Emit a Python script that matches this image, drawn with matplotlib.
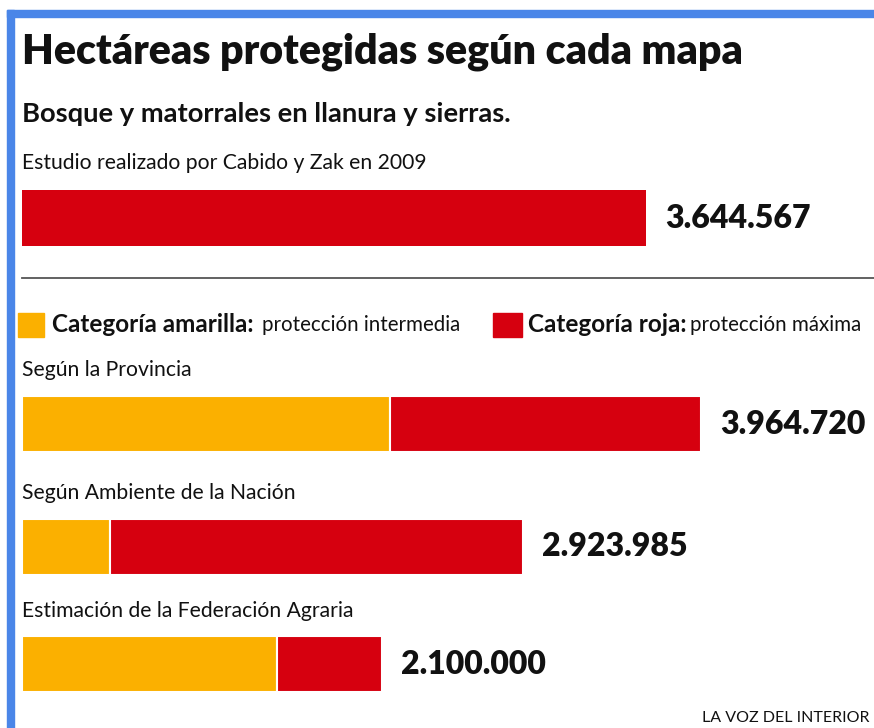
import matplotlib
matplotlib.use("Agg")
import matplotlib.pyplot as plt
from matplotlib.patches import Rectangle

# Colours
RED = "#D6000F"
YELLOW = "#FBB000"
BLUE = "#4A86E8"
TEXT = "#111111"
RULE = "#555555"

FONT = "Lato"

# Data (hectares)
study_label = "Estudio realizado por Cabido y Zak en 2009"
study_total = 3644567

map_labels = ["Según la Provincia", "Según Ambiente de la Nación",
              "Estimación de la Federación Agraria"]
map_totals = [3964720, 2923985, 2100000]
yellow_ha = [2150000, 515000, 1490000]
red_ha = [t - y for t, y in zip(map_totals, yellow_ha)]


def fmt(v):
    return f"{v:,}".replace(",", ".")


W, H = 874, 728
DPI = 100
fig = plt.figure(figsize=(W / DPI, H / DPI), dpi=DPI, facecolor="white")

# one axes over the whole canvas: x in hectares, y in pixels from top
ax = fig.add_axes([0, 0, 1, 1])
ha_per_px = study_total / 624.0
ax.set_xlim(-22 * ha_per_px, (W - 22) * ha_per_px)
ax.set_ylim(H, 0)
ax.axis("off")


def px(x, y):
    return x / W, 1 - y / H


# blue frame on top and left
fig.patches.append(Rectangle(px(7, 17), W, 7 / H, transform=fig.transFigure,
                             color=BLUE, zorder=0))
fig.patches.append(Rectangle(px(7, H), 7 / W, (H - 10) / H, transform=fig.transFigure,
                             color=BLUE, zorder=0))

# headings
fig.text(*px(22, 52), "Hectáreas protegidas según cada mapa", family=FONT,
         weight="heavy", fontsize=29.6, color=TEXT, va="center")
fig.text(*px(22, 114), "Bosque y matorrales en llanura y sierras.", family=FONT,
         weight="bold", fontsize=19.7, color=TEXT, va="center")
fig.text(*px(22, 163), study_label, family=FONT, fontsize=15.2, color=TEXT, va="center")

bar_h = 56
lbl_off = 19 * 72 / DPI  # 19 px in points
VAL_SIZE = 23

# study bar
ax.barh(218, study_total, height=bar_h, left=0, color=RED)
ax.annotate(fmt(study_total), (study_total, 218), xytext=(lbl_off, 0),
            textcoords="offset points", family=FONT, weight="heavy",
            fontsize=VAL_SIZE, va="center", color=TEXT)

# separator
ax.plot([0, (W - 22) * ha_per_px], [278, 278], color=RULE, lw=1.3)

# legend
fig.patches.append(Rectangle(px(18, 337), 26 / W, 24 / H, transform=fig.transFigure,
                             color=YELLOW))
fig.patches.append(Rectangle(px(493, 337), 29 / W, 24 / H, transform=fig.transFigure,
                             color=RED))
leg_y = 325
fig.text(*px(52, leg_y), "Categoría amarilla:", family=FONT, weight="bold",
         fontsize=17.5, color=TEXT, va="center")
fig.text(*px(262, leg_y), "protección intermedia", family=FONT, fontsize=14.8,
         color=TEXT, va="center")
fig.text(*px(528, leg_y), "Categoría roja:", family=FONT, weight="bold",
         fontsize=17.5, color=TEXT, va="center")
fig.text(*px(690, leg_y), "protección máxima", family=FONT, fontsize=14.8,
         color=TEXT, va="center")

# stacked bars
bar_y = [424, 547, 664]
label_y = [370, 493, 611]
for lab, ly, by, yv, rv, tot in zip(map_labels, label_y, bar_y, yellow_ha, red_ha, map_totals):
    fig.text(*px(22, ly), lab, family=FONT, fontsize=15.2, color=TEXT, va="center")
    ax.barh(by, yv, height=bar_h, left=0, color=YELLOW, edgecolor="white", lw=1.5)
    ax.barh(by, rv, height=bar_h, left=yv, color=RED, edgecolor="white", lw=1.5)
    ax.annotate(fmt(tot), (tot, by), xytext=(lbl_off, 0), textcoords="offset points",
                family=FONT, weight="heavy", fontsize=VAL_SIZE, va="center", color=TEXT)

fig.text(*px(870, 718), "LA VOZ DEL INTERIOR", family=FONT, fontsize=11.5,
         color=TEXT, ha="right", va="center")

fig.savefig("out.png", dpi=DPI, facecolor="white")
